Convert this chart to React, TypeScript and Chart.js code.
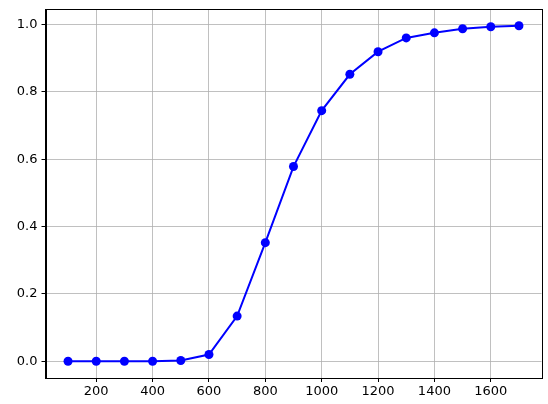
import React, { useEffect, useRef } from "react";
import { Chart, registerables } from "chart.js";

Chart.register(...registerables);

const xValues = [100, 200, 300, 400, 500, 600, 700, 800, 900, 1000, 1100, 1200, 1300, 1400, 1500, 1600, 1700];
const yValues = [0.0, 0.0, 0.0, 0.0, 0.002, 0.02, 0.134, 0.352, 0.578, 0.744, 0.852, 0.919, 0.96, 0.975, 0.987, 0.993, 0.996];
const xTicks = [200, 400, 600, 800, 1000, 1200, 1400, 1600];
const yTicks = [0.0, 0.2, 0.4, 0.6, 0.8, 1.0];

const FONT = { family: "'DejaVu Sans', sans-serif", size: 13 };

const framePlugin = {
  id: "frame",
  afterDraw(chart: any) {
    const { ctx, chartArea } = chart;
    ctx.save();
    ctx.strokeStyle = "#000";
    ctx.lineWidth = 1;
    ctx.strokeRect(
      Math.round(chartArea.left) + 0.5,
      Math.round(chartArea.top) + 0.5,
      Math.round(chartArea.right - chartArea.left),
      Math.round(chartArea.bottom - chartArea.top)
    );
    ctx.restore();
  },
};

export default function App() {
  const ref = useRef<HTMLCanvasElement>(null);
  useEffect(() => {
    document.body.style.margin = "0";
    document.body.style.background = "#fff";
    const chart = new Chart(ref.current!, {
      type: "line",
      data: {
        datasets: [
          {
            data: xValues.map((x, i) => ({ x, y: yValues[i] })),
            borderColor: "#0000ff",
            backgroundColor: "#0000ff",
            borderWidth: 2,
            pointRadius: 4.5,
            pointBorderWidth: 0,
            pointBackgroundColor: "#0000ff",
            tension: 0,
          },
        ],
      },
      options: {
        animation: false,
        responsive: false,
        layout: { padding: { top: 9, right: 6.5, left: 0, bottom: 0 } },
        plugins: { legend: { display: false }, tooltip: { enabled: false } },
        scales: {
          x: {
            type: "linear",
            min: 20,
            max: 1780,
            afterFit: (s: any) => { s.height = 26; s.paddingLeft = 0; s.paddingRight = 0; },
            afterBuildTicks: (s: any) => { s.ticks = xTicks.map((v) => ({ value: v })); },
            ticks: { color: "#000", font: FONT, padding: 2, maxRotation: 0, autoSkip: false, callback: (v: any) => String(v) },
            grid: { color: "#b0b0b0", lineWidth: 0.8, tickLength: 4, tickColor: "#000", tickWidth: 1 },
            border: { color: "#000", width: 1 },
          },
          y: {
            min: -0.0498,
            max: 1.0458,
            afterFit: (s: any) => { s.width = 45.5; s.paddingTop = 0; s.paddingBottom = 0; },
            afterBuildTicks: (s: any) => { s.ticks = yTicks.map((v) => ({ value: v })); },
            ticks: { color: "#000", font: FONT, padding: 4, autoSkip: false, callback: (v: any) => Number(v).toFixed(1) },
            grid: { color: "#b0b0b0", lineWidth: 0.8, tickLength: 4, tickColor: "#000", tickWidth: 1 },
            border: { color: "#000", width: 1 },
          },
        },
      },
      plugins: [framePlugin],
    });
    return () => chart.destroy();
  }, []);
  return <canvas ref={ref} width={548} height={404} style={{ display: "block" }} />;
}
